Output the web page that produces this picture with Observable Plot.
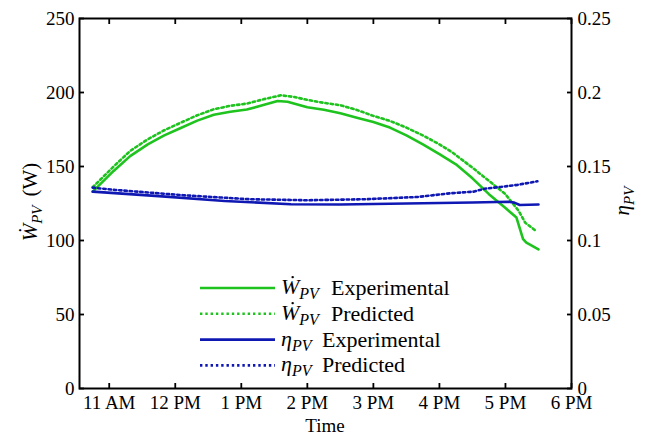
<!DOCTYPE html>
<html>
<head>
<meta charset="utf-8">
<script src="https://cdn.jsdelivr.net/npm/d3@7"></script>
<script src="https://cdn.jsdelivr.net/npm/@observablehq/plot@0.6"></script>
<style>
  html, body { margin: 0; padding: 0; background: #fff; }
  #chart { width: 649px; height: 435px; }
  #chart svg, #chart svg text { font-family: "Liberation Serif", "Tinos", "DejaVu Serif", serif; }
</style>
</head>
<body>
<div id="chart"></div>
<script>
// PV power output (left axis, W) and PV efficiency (right axis), experimental vs. predicted

// Power, experimental
const wExpTimes  = ["10:45","11:04","11:19","11:35","11:50","12:05","12:20","12:35","12:50","13:05","13:20","13:33","13:42","14:00","14:15","14:30","14:45","15:00","15:15","15:30","15:45","16:00","16:15","16:30","16:45","17:00","17:10","17:16","17:19","17:30"];
const wExpValues = [133,147,157,165,171,176,181,185,187,188.5,191.5,194.3,193.8,190,188.3,186,183,180,176.3,171,165,158.3,151.5,142,131.3,122,115.5,101,98.6,94];

// Power, predicted
const wPredTimes  = ["10:45","11:04","11:19","11:35","11:50","12:05","12:20","12:35","12:50","13:05","13:20","13:36","13:48","14:00","14:15","14:30","14:45","15:00","15:15","15:30","15:45","16:00","16:12","16:30","16:45","17:00","17:12","17:18","17:28"];
const wPredValues = [136,150,160.5,168.4,174.5,179.6,184.6,188.7,191,192.5,195.4,198.1,197,195,193,191.4,188.2,184.2,180.8,176.3,171,165,159.4,149.2,140.3,131.3,120,112,106.3];

// Efficiency, experimental
const etaExpTimes  = ["10:45","11:45","12:45","13:45","14:30","15:30","16:30","17:03","17:08","17:13","17:30"];
const etaExpValues = [0.133,0.130,0.1267,0.1245,0.1243,0.1250,0.1257,0.1262,0.1256,0.1240,0.1243];

// Efficiency, predicted
const etaPredTimes  = ["10:45","11:05","12:07","13:07","14:00","14:53","15:40","16:10","16:31","16:41","16:56","17:11","17:29"];
const etaPredValues = [0.1357,0.1342,0.1306,0.1279,0.1272,0.1279,0.1294,0.1319,0.133,0.135,0.1362,0.1376,0.140];

// Axes
const timeDomain = ["10:33","18:00"];
const hourTicks  = ["11:00","12:00","13:00","14:00","15:00","16:00","17:00","18:00"];
const powerTicks = [0,50,100,150,200,250];
const etaScale   = 1000; // efficiency plotted on the power axis: 0.25 ↔ 250 W

// Legend
const legendSymbols = ["W","W","η","η"];
const legendWords   = ["Experimental","Predicted","Experimental","Predicted"];

const GREEN = "#1ec31e";
const BLUE  = "#1018b4";
const DOTS  = "2.4,2.9";

const toTime = s => { const [h, m] = s.split(":").map(Number); return new Date(Date.UTC(2020, 0, 1, h, m)); };
const table = (times, values, k = 1) => times.map((t, i) => ({t: toTime(t), v: values[i] * k}));

const wExp   = table(wExpTimes, wExpValues);
const wPred  = table(wPredTimes, wPredValues);
const etaExp = table(etaExpTimes, etaExpValues, etaScale);
const etaPred= table(etaPredTimes, etaPredValues, etaScale);

const hourFmt = d3.utcFormat("%-I %p");
const etaFmt  = d => d3.format("")(+(d / etaScale).toFixed(2));

const font = "Liberation Serif, Tinos, DejaVu Serif, serif";

const svgEl = Plot.plot({
  width: 649,
  height: 435,
  marginLeft: 79,
  marginRight: 78,
  marginTop: 18,
  marginBottom: 47,
  style: {fontFamily: font, fontSize: "19px", background: "#fff", color: "#000", overflow: "visible"},
  x: {type: "utc", domain: timeDomain.map(toTime)},
  y: {domain: [0, 250]},
  marks: [
    Plot.line(wExp,   {x: "t", y: "v", stroke: GREEN, strokeWidth: 2.6}),
    Plot.line(wPred,  {x: "t", y: "v", stroke: GREEN, strokeWidth: 2.6, strokeDasharray: DOTS}),
    Plot.line(etaExp, {x: "t", y: "v", stroke: BLUE,  strokeWidth: 2.6}),
    Plot.line(etaPred,{x: "t", y: "v", stroke: BLUE,  strokeWidth: 2.6, strokeDasharray: DOTS}),
    Plot.axisX({anchor: "bottom", ticks: hourTicks.map(toTime), tickFormat: hourFmt, tickSize: -5, tickPadding: 12, label: null, fontSize: 19, strokeWidth: 1.8}),
    Plot.axisX({anchor: "top", ticks: hourTicks.map(toTime), tickFormat: () => "", tickSize: -5, label: null, strokeWidth: 1.8}),
    Plot.axisY({anchor: "left", ticks: powerTicks, tickSize: -5, tickPadding: 10, label: null, fontSize: 19, strokeWidth: 1.8}),
    Plot.axisY({anchor: "right", ticks: powerTicks, tickFormat: etaFmt, tickSize: -5, tickPadding: 11, label: null, fontSize: 19, strokeWidth: 1.8}),
    Plot.frame({stroke: "#000", strokeWidth: 2})
  ]
});

document.getElementById("chart").appendChild(svgEl);
const svg = d3.select(svgEl);

// Symbol with subscript PV: Ẇ_PV or η_PV
function symbol(sel, base, subSize, drop) {
  sel.append("tspan").attr("font-style", "italic").text(base === "W" ? "Ẇ" : "η");
  sel.append("tspan").attr("font-style", "italic").attr("font-size", subSize).attr("dy", drop).text("PV");
  return sel;
}

// Axis titles
const leftTitle = svg.append("text")
  .attr("transform", "translate(37,202) rotate(-90)")
  .attr("text-anchor", "middle")
  .attr("font-size", 21).attr("fill", "#000");
symbol(leftTitle, "W", 15, 5);
leftTitle.append("tspan").attr("dy", -5).attr("dx", 9).text("(W)");

const rightTitle = svg.append("text")
  .attr("transform", "translate(629,201) rotate(-90)")
  .attr("text-anchor", "middle")
  .attr("font-size", 21).attr("fill", "#000");
symbol(rightTitle, "η", 15, 5);

svg.append("text")
  .attr("x", 325).attr("y", 432)
  .attr("text-anchor", "middle")
  .attr("font-size", 19).attr("fill", "#000")
  .text("Time");

// Legend
const legendColors = [GREEN, GREEN, BLUE, BLUE];
const legendDashed = [false, true, false, true];
const legend = svg.append("g").attr("fill", "#000").attr("text-anchor", "start");
legendSymbols.forEach((s, i) => {
  const y = 288 + i * 25.8;
  legend.append("line")
    .attr("x1", 200).attr("x2", 275).attr("y1", y).attr("y2", y)
    .attr("stroke", legendColors[i]).attr("stroke-width", 2.6)
    .attr("stroke-dasharray", legendDashed[i] ? DOTS : null);
  const t = legend.append("text").attr("x", 281).attr("y", y + 6)
    .attr("text-anchor", "start").attr("font-size", 22);
  symbol(t, s, 16, 5);
  legend.append("text").attr("x", s === "W" ? 331 : 322).attr("y", y + 7)
    .attr("text-anchor", "start").attr("font-size", 22).text(legendWords[i]);
});
</script>
</body>
</html>
